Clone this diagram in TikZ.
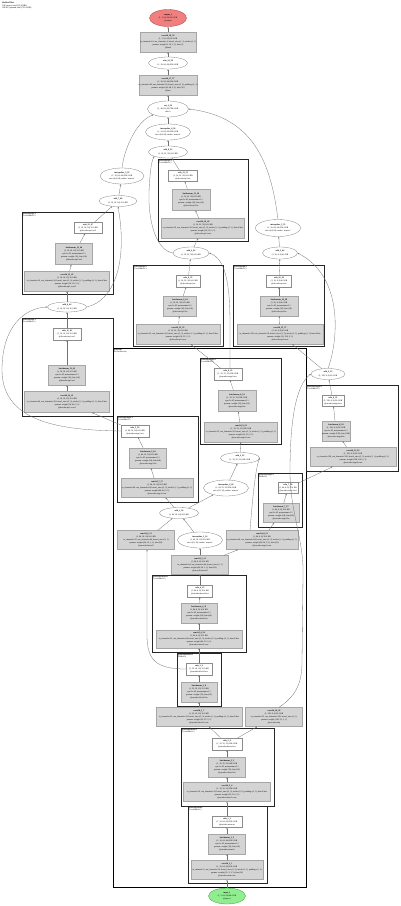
\documentclass[tikz,border=0pt]{standalone}
\usepackage{fontspec}
\setmainfont{Liberation Serif}
\usetikzlibrary{shapes.geometric,arrows.meta}
\newcommand{\zb}[1]{\makebox[0pt]{\textbf{#1}}}
\newcommand{\zz}[1]{\makebox[0pt]{#1}}
\begin{document}
\begin{tikzpicture}[x=1pt,y=-1pt,
  txt/.style={font=\fontsize{2.1}{3.1}\selectfont, align=center, inner sep=0pt},
  sz/.style 2 args={minimum width=#1pt, minimum height=#2pt},
  fn/.style={txt, ellipse, draw=black!50, line width=0.3pt, fill=white},
  mod/.style={txt, rectangle, draw=black!45, line width=0.3pt, fill=white},
  par/.style={txt, rectangle, draw=black!35, line width=0.3pt, fill=black!17},
  outn/.style={fn, fill={rgb,255:red,240;green,128;blue,128}, draw={rgb,255:red,170;green,60;blue,60}},
  inn/.style={fn, fill={rgb,255:red,144;green,238;blue,144}, draw={rgb,255:red,60;green,150;blue,60}},
  clu/.style={draw=black!85, line width=1.0pt},
  bigclu/.style={draw=black, line width=0.8pt},
  clab/.style={font=\fontsize{1.9}{2.2}\selectfont, anchor=north west, inner sep=0.6pt, align=left},
  edge/.style={draw=black!55, line width=0.3pt, -{Stealth[length=1.8pt,width=1.4pt]}}
]
\useasboundingbox (0,0) rectangle (400,906);

% header
\node[clab, font=\fontsize{2.2}{2.8}\selectfont] (hdr) at (1.5,1) {\textbf{ResNetUNet}\\104 tensors total (13.8 MB)\\186,913 params total (730.1 KB)};

% clusters
\draw[clu] (158,159) rectangle (248,241);
\node[clab] (k1) at (158,159) {\textbf{@decoder.up3:1}\\(ConvBNReLU)};
\draw[clu] (22,212) rectangle (113,294);
\node[clab] (kl1) at (22,212) {\textbf{@decoder.up1:2}\\(ConvBNReLU)};
\draw[clu] (22,318) rectangle (113,416);
\node[clab] (kl2) at (22,318) {\textbf{@decoder.up1:1}\\(ConvBNReLU)};
\draw[clu] (133,265) rectangle (223,346);
\node[clab] (k2) at (133,265) {\textbf{@decoder.up2:1}\\(ConvBNReLU)};
\draw[clu] (233,265) rectangle (324,346);
\node[clab] (k3) at (233,265) {\textbf{@decoder.up4:1}\\(ConvBNReLU)};
\draw[bigclu] (113,348) rectangle (306,887);
\node[clab] (kb) at (113,348) {\textbf{@encoder}\\(ResNetEncoder)};
\draw[clu] (200,358) rectangle (281,444);
\node[clab] (kc1) at (200,358) {\textbf{@encoder.stage2:1}\\(ConvBNReLU)};
\draw[clu] (306,385) rectangle (398,471);
\node[clab] (kr1) at (306,385) {\textbf{@encoder.stage4:1}\\(ConvBNReLU)};
\draw[clu] (117,416) rectangle (198,502);
\node[clab] (kc2) at (117,416) {\textbf{@encoder.stage1:1}\\(ConvBNReLU)};
\draw[clu] (258,473) rectangle (302,527);
\node[clab] (kr2) at (258,473) {\textbf{@encoder.stage3:1}\\(BNReLU)};
\draw[clu] (152,575) rectangle (246,652);
\node[clab] (kc3) at (152,575) {\textbf{@encoder.down2:1}\\(ConvBNReLU)};
\draw[clu] (177,653) rectangle (221,706);
\node[clab] (kc4) at (177,653) {\textbf{@encoder.block1:1}\\(BNReLU)};
\draw[clu] (181,728) rectangle (274,806);
\node[clab] (kc5) at (181,728) {\textbf{@encoder.down1:1}\\(ConvBNReLU)};
\draw[clu] (188,806) rectangle (267,883);
\node[clab] (kc6) at (188,806) {\textbf{@encoder.stem:1}\\(ConvBNReLU)};

% top chain
\node[outn,sz={37}{17}] (out) at (168,18) {\zb{output\_1}\\\zz{(1, 1, 64, 64) 16.0 KB}\\\zz{@output}};
\node[par,sz={56}{20}] (cvA) at (168,42) {\zb{conv2d\_18\_59}\\\zz{(1, 1, 64, 64) 16.0 KB}\\\zz{in\_channels=16, out\_channels=1, kernel\_size=(1, 1), stride=(1, 1)}\\\zz{params: weight (1, 16, 1, 1), bias (1)}\\\zz{@head}};
\node[fn,sz={39}{12}] (rlA) at (168,63) {\zb{relu\_14\_58}\\\zz{(1, 16, 64, 64) 256.0 KB}};
\node[par,sz={58}{20}] (cvB) at (168,85) {\zb{conv2d\_17\_57}\\\zz{(1, 16, 64, 64) 256.0 KB}\\\zz{in\_channels=48, out\_channels=16, kernel\_size=(3, 3), padding=(1, 1)}\\\zz{params: weight (16, 48, 3, 3), bias (16)}\\\zz{@fuse}};
\node[fn,sz={41}{16}] (cat) at (168,109) {\zb{cat\_1\_56}\\\zz{(1, 48, 64, 64) 768.0 KB}\\\zz{dim=1}};
\node[fn,sz={45}{16}] (ipC) at (168,132) {\zb{interpolate\_4\_54}\\\zz{(1, 16, 64, 64) 256.0 KB}\\\zz{size=(64, 64), mode='nearest'}};
\node[fn,sz={39}{12}] (ad3) at (168,152) {\zb{add\_8\_52}\\\zz{(1, 16, 32, 32) 64.0 KB}};
\node[fn,sz={44}{16}] (ipL) at (122,176) {\zb{interpolate\_3\_53}\\\zz{(1, 16, 64, 64) 256.0 KB}\\\zz{size=(64, 64), mode='nearest'}};
\node[fn,sz={38}{11}] (adL1) at (118,201) {\zb{add\_7\_48}\\\zz{(1, 16, 16, 16) 16.0 KB}};
\node[fn,sz={45}{17}] (ipR) at (278,228) {\zb{interpolate\_5\_55}\\\zz{(1, 16, 64, 64) 256.0 KB}\\\zz{size=(64, 64), mode='nearest'}};
\node[fn,sz={36}{12}] (adM) at (191,253) {\zb{add\_4\_36}\\\zz{(1, 16, 32, 32) 64.0 KB}};
\node[fn,sz={35}{12}] (adRt) at (280,253) {\zb{add\_5\_40}\\\zz{(1, 16, 8, 8) 4.0 KB}};

% K1
\node[mod,sz={29}{11}] (rl1) at (183,176) {\zb{relu\_13\_51}\\\zz{(1, 16, 32, 32) 64.0 KB}\\\zz{@decoder.up3.act}};
\node[par,sz={38}{21}] (bn1) at (191,200) {\zb{batchnorm\_13\_50}\\\zz{(1, 16, 32, 32) 64.0 KB}\\\zz{eps=1e-05, momentum=0.1}\\\zz{params: weight (16), bias (16)}\\\zz{@decoder.up3.bn}};
\node[par,sz={83}{20}] (cv1) at (203,228) {\zb{conv2d\_16\_49}\\\zz{(1, 16, 32, 32) 64.0 KB}\\\zz{in\_channels=16, out\_channels=16, kernel\_size=(3, 3), stride=(1, 1), padding=(1, 1), bias=False}\\\zz{params: weight (16, 16, 3, 3)}\\\zz{@decoder.up3.conv}};
% KL1
\node[mod,sz={28}{11}] (rlL1) at (88,228) {\zb{relu\_12\_47}\\\zz{(1, 16, 16, 16) 16.0 KB}\\\zz{@decoder.up1.act2}};
\node[par,sz={37}{21}] (bnL1) at (74,254) {\zb{batchnorm\_12\_46}\\\zz{(1, 16, 16, 16) 16.0 KB}\\\zz{eps=1e-05, momentum=0.1}\\\zz{params: weight (16), bias (16)}\\\zz{@decoder.up1.bn2}};
\node[par,sz={85}{20}] (cvL1) at (67,281) {\zb{conv2d\_15\_45}\\\zz{(1, 16, 16, 16) 16.0 KB}\\\zz{in\_channels=16, out\_channels=16, kernel\_size=(3, 3), stride=(1, 1), padding=(1, 1), bias=False}\\\zz{params: weight (16, 16, 3, 3)}\\\zz{@decoder.up1.conv2}};
\node[fn,sz={39}{10}] (adL2) at (67,307) {\zb{add\_6\_44}\\\zz{(1, 16, 16, 16) 16.0 KB}};
% KL2
\node[mod,sz={28}{12}] (rlL2) at (67,334) {\zb{relu\_11\_43}\\\zz{(1, 16, 16, 16) 16.0 KB}\\\zz{@decoder.up1.act1}};
\node[par,sz={37}{20}] (bnL2) at (67,375) {\zb{batchnorm\_11\_42}\\\zz{(1, 16, 16, 16) 16.0 KB}\\\zz{eps=1e-05, momentum=0.1}\\\zz{params: weight (16), bias (16)}\\\zz{@decoder.up1.bn1}};
\node[par,sz={85}{21}] (cvL2) at (67,402) {\zb{conv2d\_14\_41}\\\zz{(1, 16, 16, 16) 16.0 KB}\\\zz{in\_channels=64, out\_channels=16, kernel\_size=(3, 3), stride=(1, 1), padding=(1, 1), bias=False}\\\zz{params: weight (16, 64, 3, 3)}\\\zz{@decoder.up1.conv1}};
% K2
\node[mod,sz={24}{12}] (rl2) at (188,281) {\zb{relu\_9\_35}\\\zz{(1, 16, 32, 32) 64.0 KB}\\\zz{@decoder.up2.act}};
\node[par,sz={33}{20}] (bn2) at (180,306) {\zb{batchnorm\_9\_34}\\\zz{(1, 16, 32, 32) 64.0 KB}\\\zz{eps=1e-05, momentum=0.1}\\\zz{params: weight (16), bias (16)}\\\zz{@decoder.up2.bn}};
\node[par,sz={84}{20}] (cv2) at (178,334) {\zb{conv2d\_12\_33}\\\zz{(1, 16, 32, 32) 64.0 KB}\\\zz{in\_channels=32, out\_channels=16, kernel\_size=(3, 3), stride=(1, 1), padding=(1, 1), bias=False}\\\zz{params: weight (16, 32, 3, 3)}\\\zz{@decoder.up2.conv}};
% K3
\node[mod,sz={25}{12}] (rl3) at (279,281) {\zb{relu\_10\_39}\\\zz{(1, 16, 8, 8) 4.0 KB}\\\zz{@decoder.up4.act}};
\node[par,sz={38}{20}] (bn3) at (279,306) {\zb{batchnorm\_10\_38}\\\zz{(1, 16, 8, 8) 4.0 KB}\\\zz{eps=1e-05, momentum=0.1}\\\zz{params: weight (16), bias (16)}\\\zz{@decoder.up4.bn}};
\node[par,sz={86}{20}] (cv3) at (280,334) {\zb{conv2d\_13\_37}\\\zz{(1, 16, 8, 8) 4.0 KB}\\\zz{in\_channels=128, out\_channels=16, kernel\_size=(3, 3), stride=(1, 1), padding=(1, 1), bias=False}\\\zz{params: weight (16, 128, 3, 3)}\\\zz{@decoder.up4.conv}};
% KC1
\node[mod,sz={28}{12}] (rlC1) at (228,374) {\zb{relu\_6\_25}\\\zz{(1, 32, 32, 32) 128.0 KB}\\\zz{@encoder.stage2.act}};
\node[par,sz={38}{21}] (bnC1) at (237,401) {\zb{batchnorm\_6\_24}\\\zz{(1, 32, 32, 32) 128.0 KB}\\\zz{eps=1e-05, momentum=0.1}\\\zz{params: weight (32), bias (32)}\\\zz{@encoder.stage2.bn}};
\node[par,sz={73}{20}] (cvC1) at (241,432) {\zb{conv2d\_9\_23}\\\zz{(1, 32, 32, 32) 128.0 KB}\\\zz{in\_channels=32, out\_channels=32, kernel\_size=(3, 3), stride=(1, 1), padding=(1, 1)}\\\zz{params: weight (32, 32, 3, 3)}\\\zz{@encoder.stage2.conv}};
\node[fn,sz={34}{11}] (adR) at (328,374) {\zb{add\_3\_32}\\\zz{(1, 128, 8, 8) 32.0 KB}};
% KR1
\node[mod,sz={22}{11}] (rlR1) at (333,401) {\zb{relu\_8\_31}\\\zz{(1, 128, 8, 8) 32.0 KB}\\\zz{@encoder.stage4.act}};
\node[par,sz={28}{20}] (bnR1) at (336,431) {\zb{batchnorm\_8\_30}\\\zz{(1, 128, 8, 8) 32.0 KB}\\\zz{eps=1e-05, momentum=0.1}\\\zz{params: weight (128), bias (128)}\\\zz{@encoder.stage4.bn}};
\node[par,sz={86}{19}] (cvR1) at (353,457) {\zb{conv2d\_11\_29}\\\zz{(1, 128, 8, 8) 32.0 KB}\\\zz{in\_channels=128, out\_channels=128, kernel\_size=(3, 3), stride=(1, 1), padding=(1, 1)}\\\zz{params: weight (128, 128, 3, 3)}\\\zz{@encoder.stage4.conv}};
\node[fn,sz={39}{11}] (adC) at (240,458) {\zb{add\_2\_22}\\\zz{(1, 32, 32, 32) 128.0 KB}};
% KC2
\node[mod,sz={28}{12}] (rlC2) at (135,431) {\zb{relu\_5\_19}\\\zz{(1, 64, 16, 16) 64.0 KB}\\\zz{@encoder.stage1.act}};
\node[par,sz={37}{20}] (bnC2) at (148,458) {\zb{batchnorm\_5\_18}\\\zz{(1, 64, 16, 16) 64.0 KB}\\\zz{eps=1e-05, momentum=0.1}\\\zz{params: weight (64), bias (64)}\\\zz{@encoder.stage1.bn}};
\node[par,sz={72}{19}] (cvC2) at (157,488) {\zb{conv2d\_7\_17}\\\zz{(1, 64, 16, 16) 64.0 KB}\\\zz{in\_channels=64, out\_channels=64, kernel\_size=(3, 3), stride=(1, 1), padding=(1, 1)}\\\zz{params: weight (64, 64, 3, 3)}\\\zz{@encoder.stage1.conv}};
\node[fn,sz={45}{16}] (ipCL) at (226,488) {\zb{interpolate\_2\_20}\\\zz{(1, 64, 32, 32) 256.0 KB}\\\zz{size=(32, 32), mode='nearest'}};
% KR2
\node[mod,sz={20}{11}] (rlR2) at (288,488) {\zb{relu\_7\_28}\\\zz{(1, 64, 8, 8) 16.0 KB}\\\zz{@encoder.stage3.act}};
\node[par,sz={36}{19}] (bnR2) at (281,513) {\zb{batchnorm\_7\_27}\\\zz{(1, 64, 8, 8) 16.0 KB}\\\zz{eps=1e-05, momentum=0.1}\\\zz{params: weight (64), bias (64)}\\\zz{@encoder.stage3.bn}};
\node[fn,sz={39}{11}] (adCL) at (179,513) {\zb{add\_1\_16}\\\zz{(1, 64, 16, 16) 64.0 KB}};
\node[par,sz={57}{19}] (cvL) at (146,540) {\zb{conv2d\_6\_15}\\\zz{(1, 64, 16, 16) 64.0 KB}\\\zz{in\_channels=32, out\_channels=64, kernel\_size=(1, 1)}\\\zz{params: weight (64, 32, 1, 1), bias (64)}\\\zz{@encoder.lateral1}};
\node[fn,sz={45}{16}] (ipM) at (200,540) {\zb{interpolate\_1\_14}\\\zz{(1, 64, 16, 16) 64.0 KB}\\\zz{size=(16, 16), mode='nearest'}};
\node[par,sz={72}{19}] (cvR) at (262,540) {\zb{conv2d\_8\_21}\\\zz{(1, 64, 8, 8) 16.0 KB}\\\zz{in\_channels=64, out\_channels=64, kernel\_size=(3, 3), stride=(1, 1), padding=(1, 1)}\\\zz{params: weight (64, 64, 3, 3), bias (64)}\\\zz{@encoder.stage3.conv}};
\node[par,sz={57}{19}] (cvM) at (200,565) {\zb{conv2d\_5\_13}\\\zz{(1, 64, 8, 8) 16.0 KB}\\\zz{in\_channels=64, out\_channels=64, kernel\_size=(1, 1)}\\\zz{params: weight (64, 64, 1, 1), bias (64)}\\\zz{@encoder.lateral2}};
% KC3
\node[mod,sz={25}{12}] (rlC3) at (200,591) {\zb{relu\_4\_12}\\\zz{(1, 64, 8, 8) 16.0 KB}\\\zz{@encoder.down2.act}};
\node[par,sz={36}{20}] (bnC3) at (199,613) {\zb{batchnorm\_4\_11}\\\zz{(1, 64, 8, 8) 16.0 KB}\\\zz{eps=1e-05, momentum=0.1}\\\zz{params: weight (64), bias (64)}\\\zz{@encoder.down2.bn}};
\node[par,sz={86}{18}] (cvC3) at (199,639) {\zb{conv2d\_4\_10}\\\zz{(1, 64, 8, 8) 16.0 KB}\\\zz{in\_channels=32, out\_channels=64, kernel\_size=(3, 3), stride=(2, 2), padding=(1, 1), bias=False}\\\zz{params: weight (64, 32, 3, 3)}\\\zz{@encoder.down2.conv}};
% KC4
\node[mod,sz={26}{12}] (rlC4) at (199,669) {\zb{relu\_3\_9}\\\zz{(1, 32, 16, 16) 32.0 KB}\\\zz{@encoder.block1.act}};
\node[par,sz={36}{20}] (bnC4) at (199,692) {\zb{batchnorm\_3\_8}\\\zz{(1, 32, 16, 16) 32.0 KB}\\\zz{eps=1e-05, momentum=0.1}\\\zz{params: weight (32), bias (32)}\\\zz{@encoder.block1.bn}};
\node[par,sz={86}{19}] (cvLB) at (199,717) {\zb{conv2d\_3\_7}\\\zz{(1, 32, 16, 16) 32.0 KB}\\\zz{in\_channels=32, out\_channels=32, kernel\_size=(3, 3), stride=(1, 1), padding=(1, 1), bias=False}\\\zz{params: weight (32, 32, 3, 3)}\\\zz{@encoder.block1.conv}};
\node[par,sz={57}{19}] (cvRB) at (274,717) {\zb{conv2d\_10\_26}\\\zz{(1, 128, 8, 8) 32.0 KB}\\\zz{in\_channels=32, out\_channels=128, kernel\_size=(1, 1)}\\\zz{params: weight (128, 32, 1, 1)}\\\zz{@encoder.skip}};
% KC5
\node[mod,sz={30}{12}] (rlC5) at (227,744) {\zb{relu\_2\_6}\\\zz{(1, 32, 32, 32) 128.0 KB}\\\zz{@encoder.down1.act}};
\node[par,sz={37}{20}] (bnC5) at (227,767) {\zb{batchnorm\_2\_5}\\\zz{(1, 32, 32, 32) 128.0 KB}\\\zz{eps=1e-05, momentum=0.1}\\\zz{params: weight (32), bias (32)}\\\zz{@encoder.down1.bn}};
\node[par,sz={87}{19}] (cvC5) at (227,792) {\zb{conv2d\_2\_4}\\\zz{(1, 32, 32, 32) 128.0 KB}\\\zz{in\_channels=16, out\_channels=32, kernel\_size=(3, 3), stride=(2, 2), padding=(1, 1), bias=False}\\\zz{params: weight (32, 16, 3, 3)}\\\zz{@encoder.down1.conv}};
% KC6
\node[mod,sz={30}{11}] (rlC6) at (227,822) {\zb{relu\_1\_3}\\\zz{(1, 16, 64, 64) 256.0 KB}\\\zz{@encoder.stem.act}};
\node[par,sz={37}{20}] (bnC6) at (227,844) {\zb{batchnorm\_1\_2}\\\zz{(1, 16, 64, 64) 256.0 KB}\\\zz{eps=1e-05, momentum=0.1}\\\zz{params: weight (16), bias (16)}\\\zz{@encoder.stem.bn}};
\node[par,sz={72}{19}] (cvC6) at (227,870) {\zb{conv2d\_1\_1}\\\zz{(1, 16, 64, 64) 256.0 KB}\\\zz{in\_channels=3, out\_channels=16, kernel\_size=(3, 3), stride=(1, 1), padding=(1, 1)}\\\zz{params: weight (16, 3, 3, 3), bias (16)}\\\zz{@encoder.stem.conv}};
\node[inn,sz={37}{16}] (inp) at (227,896) {\zb{input\_1}\\\zz{(1, 3, 64, 64) 48.0 KB}\\\zz{@input.x}};

% edges: encoder
\draw[edge] (inp) -- (cvC6);
\draw[edge] (cvC6) -- (bnC6);
\draw[edge] (bnC6) -- (rlC6);
\draw[edge] (rlC6) -- (cvC5);
\draw[edge] (cvC5) -- (bnC5);
\draw[edge] (bnC5) -- (rlC5);
\draw[edge] (rlC5) -- (cvLB);
\draw[edge] (rlC5) -- (cvRB);
\draw[edge] (cvLB) -- (bnC4);
\draw[edge] (bnC4) -- (rlC4);
\draw[edge] (rlC4) -- (cvC3);
\draw[edge] (rlC4.west) .. controls (156,669) and (147,660) .. (147,635) -- ([xshift=1pt]cvL.south);
\draw[edge] (cvC3) -- (bnC3);
\draw[edge] (bnC3) -- (rlC3);
\draw[edge] (rlC3) -- (cvM);
\draw[edge] (cvM) -- (ipM);
\draw[edge] (cvM) -- (cvR);
\draw[edge] (ipM) -- (adCL);
\draw[edge] (cvL) -- (adCL);
\draw[edge] (adCL) -- (cvC2);
\draw[edge] (adCL) -- (ipCL);
\draw[edge] (cvC2) -- (bnC2);
\draw[edge] (bnC2) -- (rlC2);
\draw[edge] (ipCL) -- (adC);
\draw[edge] ([xshift=-12pt]cvR.north) .. controls (252,505) and (255,470) .. (adC.east);
\draw[edge] (cvR) -- (bnR2);
\draw[edge] (bnR2) -- (rlR2);
\draw[edge] (rlR2) -- (cvR1);
\draw[edge] (cvR1) -- (bnR1);
\draw[edge] (bnR1) -- (rlR1);
\draw[edge] (rlR1) -- (adR);
\draw[edge] ([xshift=5pt]cvRB.north) .. controls (294,697) and (302,686) .. (302,662) -- (303,575) .. controls (304,540) and (290,512) .. (290,472) .. controls (290,420) and (296,385) .. (adR.west);
\draw[edge] (adC) -- (cvC1);
\draw[edge] (cvC1) -- (bnC1);
\draw[edge] (bnC1) -- (rlC1);
% edges: decoder
\draw[edge] (rlC1) -- (cv2);
\draw[edge] ([xshift=2pt]rlC1.north) -- (230,325) .. controls (230,285) and (226,259) .. (adM.east);
\draw[edge] (cv2) -- (bn2);
\draw[edge] (bn2) -- (rl2);
\draw[edge] (rl2) -- (adM);
\draw[edge] (adR) -- (cv3);
\draw[edge] (cv3) -- (bn3);
\draw[edge] (bn3) -- (rl3);
\draw[edge] (rl3) -- (adRt);
\draw[edge] (adR.north) .. controls (337,345) and (346,278) .. (adRt.east);
\draw[edge] (adRt) -- (ipR);
\draw[edge] (ipR.north) .. controls (271,165) and (255,117) .. (cat.east);
\draw[edge] (adM) -- (cv1);
\draw[edge] (cv1) -- (bn1);
\draw[edge] (bn1) -- (rl1);
\draw[edge] (rl1) -- (ad3);
\draw[edge] (adM.west) .. controls (155,250) and (148,218) .. (149,192) .. controls (150,172) and (151,163) .. (ad3.south west);
\draw[edge] (rlC2) -- (cvL2);
\draw[edge] (rlC2.west) .. controls (70,430) and (2,426) .. (2,370) .. controls (2,326) and (25,308) .. (adL2.west);
\draw[edge] (cvL2) -- (bnL2);
\draw[edge] (bnL2) -- (rlL2);
\draw[edge] (rlL2) -- (adL2);
\draw[edge] (adL2) -- (cvL1);
\draw[edge] (cvL1) -- (bnL1);
\draw[edge] (bnL1) -- (rlL1);
\draw[edge] (rlL1) -- (adL1);
\draw[edge] (adL2.east) .. controls (114,301) and (128,262) .. (adL1.south);
\draw[edge] (adL1) -- (ipL);
\draw[edge] (ipL.north) .. controls (124,150) and (136,121) .. (cat.south west);
\draw[edge] (ad3) -- (ipC);
\draw[edge] (ipC) -- (cat);
\draw[edge] (cat) -- (cvB);
\draw[edge] (cvB) -- (rlA);
\draw[edge] (rlA) -- (cvA);
\draw[edge] (cvA) -- (out);
\end{tikzpicture}
\end{document}
